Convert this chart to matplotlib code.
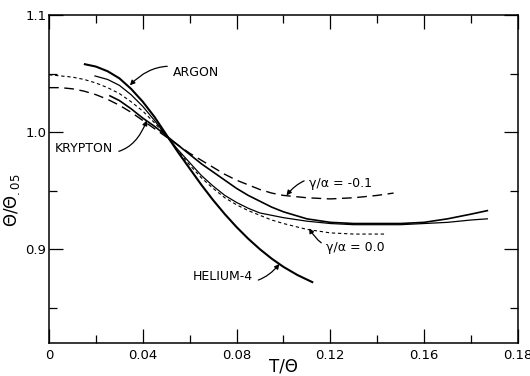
"""Reduced Debye temperature versus T/Theta for rare-gas solids."""

from __future__ import annotations

import matplotlib

matplotlib.use("Agg")
import matplotlib.pyplot as plt
from matplotlib.ticker import FixedFormatter, FixedLocator

# curve data (T/Theta, Theta/Theta_.05)
helium_t = [0.0153, 0.020, 0.025, 0.030, 0.035, 0.040, 0.045, 0.050, 0.055, 0.060, 0.065,
            0.070, 0.075, 0.080, 0.085, 0.090, 0.095, 0.100, 0.106, 0.1123]
helium_y = [1.058, 1.056, 1.052, 1.046, 1.037, 1.026, 1.013, 0.998, 0.983, 0.969, 0.955,
            0.942, 0.930, 0.919, 0.909, 0.900, 0.892, 0.885, 0.878, 0.872]

argon_t = [0.0196, 0.025, 0.030, 0.035, 0.040, 0.045, 0.050, 0.055, 0.060, 0.065, 0.070, 0.075,
           0.080, 0.085, 0.090, 0.100, 0.110, 0.120, 0.130, 0.140, 0.150, 0.160, 0.170, 0.180, 0.187]
argon_y = [1.048, 1.045, 1.040, 1.032, 1.022, 1.010, 0.997, 0.985, 0.974, 0.963, 0.954, 0.946,
           0.940, 0.935, 0.931, 0.927, 0.924, 0.922, 0.921, 0.921, 0.921, 0.922, 0.923, 0.925, 0.926]

krypton_t = [0.026, 0.030, 0.035, 0.040, 0.045, 0.050, 0.055, 0.060, 0.065, 0.070, 0.075, 0.080,
             0.085, 0.090, 0.095, 0.100, 0.105, 0.110, 0.120, 0.130, 0.140, 0.150, 0.160, 0.170,
             0.180, 0.187]
krypton_y = [1.031, 1.027, 1.020, 1.012, 1.005, 0.997, 0.989, 0.981, 0.973, 0.966, 0.959, 0.952,
             0.946, 0.941, 0.936, 0.932, 0.929, 0.926, 0.923, 0.922, 0.922, 0.922, 0.923, 0.926,
             0.930, 0.933]

gamma_minus_t = [0.000, 0.005, 0.010, 0.015, 0.020, 0.025, 0.030, 0.035, 0.040, 0.045, 0.050,
                 0.055, 0.060, 0.065, 0.070, 0.075, 0.080, 0.085, 0.090, 0.095, 0.100, 0.110,
                 0.120, 0.130, 0.140, 0.147]
gamma_minus_y = [1.038, 1.038, 1.037, 1.035, 1.032, 1.028, 1.023, 1.017, 1.010, 1.003, 0.996,
                 0.989, 0.982, 0.976, 0.970, 0.964, 0.959, 0.955, 0.951, 0.948, 0.946, 0.944,
                 0.943, 0.944, 0.946, 0.948]

gamma_zero_t = [0.000, 0.005, 0.010, 0.015, 0.020, 0.025, 0.030, 0.035, 0.040, 0.045, 0.050,
                0.055, 0.060, 0.065, 0.070, 0.075, 0.080, 0.085, 0.090, 0.095, 0.100, 0.110,
                0.120, 0.130, 0.144]
gamma_zero_y = [1.049, 1.048, 1.047, 1.045, 1.042, 1.038, 1.033, 1.026, 1.018, 1.008, 0.997,
                0.984, 0.972, 0.961, 0.952, 0.944, 0.938, 0.933, 0.929, 0.925, 0.922, 0.917,
                0.914, 0.913, 0.913]

x_ticks = [0.0, 0.04, 0.08, 0.12, 0.16, 0.20]
x_tick_labels = ["0", "0.04", "0.08", "0.12", "0.16", "0.18"]
x_minor_ticks = [0.02, 0.06, 0.10, 0.14, 0.18]
y_ticks = [0.9, 1.0, 1.1]
y_tick_labels = ["0.9", "1.0", "1.1"]
y_minor_ticks = [0.85, 0.95, 1.05]

# label text, text anchor, arrow tip, arc curvature
annotations = [
    ("ARGON", (0.0528, 1.0513), (0.0345, 1.040), 0.35),
    ("KRYPTON", (0.0026, 0.9863), (0.0417, 1.010), 0.5),
    ("HELIUM-4", (0.0613, 0.877), (0.0983, 0.8875), 0.4),
    ("γ/α = -0.1", (0.1111, 0.9564), (0.1013, 0.946), 0.4),
    ("γ/α = 0.0", (0.1183, 0.9017), (0.111, 0.918), -0.4),
]


def style_axes(ax: plt.Axes) -> None:
    """Inward ticks on all four sides, like the old printed figure."""

    ax.set_xlim(0.0, 0.20)
    ax.set_ylim(0.82, 1.10)
    ax.xaxis.set_major_locator(FixedLocator(x_ticks))
    ax.xaxis.set_major_formatter(FixedFormatter(x_tick_labels))
    ax.xaxis.set_minor_locator(FixedLocator(x_minor_ticks))
    ax.yaxis.set_major_locator(FixedLocator(y_ticks))
    ax.yaxis.set_major_formatter(FixedFormatter(y_tick_labels))
    ax.yaxis.set_minor_locator(FixedLocator(y_minor_ticks))
    ax.tick_params(which="both", direction="in", top=True, right=True, width=0.9, labelsize=9.5)
    ax.tick_params(which="major", length=10)
    ax.tick_params(which="minor", length=5.5)
    ax.tick_params(axis="x", pad=4)
    ax.tick_params(axis="y", pad=2)
    for spine in ax.spines.values():
        spine.set_linewidth(1.1)


def main() -> None:
    fig = plt.figure(figsize=(5.3, 3.76), dpi=100)
    ax = fig.add_axes([0.0925, 0.0878, 0.8845, 0.8722])

    ax.plot(helium_t, helium_y, color="black", lw=1.5)
    ax.plot(argon_t, argon_y, color="black", lw=0.9)
    ax.plot(krypton_t, krypton_y, color="black", lw=1.2)
    ax.plot(gamma_minus_t, gamma_minus_y, color="black", lw=1.0, dashes=(7, 4))
    ax.plot(gamma_zero_t, gamma_zero_y, color="black", lw=0.8, dashes=(3, 2.5))

    for text, anchor, tip, rad in annotations:
        ax.annotate(
            text,
            xy=tip,
            xytext=anchor,
            ha="left",
            va="center",
            fontsize=9,
            arrowprops=dict(
                arrowstyle="-|>",
                connectionstyle=f"arc3,rad={rad}",
                color="black",
                lw=0.9,
                mutation_scale=7,
                shrinkA=2,
                shrinkB=0,
            ),
        )

    style_axes(ax)
    ax.set_xlabel("T/Θ", fontsize=12, labelpad=-3)
    ax.set_ylabel(r"$\Theta/\Theta_{\mathregular{.05}}$", fontsize=12)
    ax.yaxis.set_label_coords(-0.058, 0.436)

    fig.savefig("out.png", dpi=100)
    plt.close(fig)


if __name__ == "__main__":
    main()
